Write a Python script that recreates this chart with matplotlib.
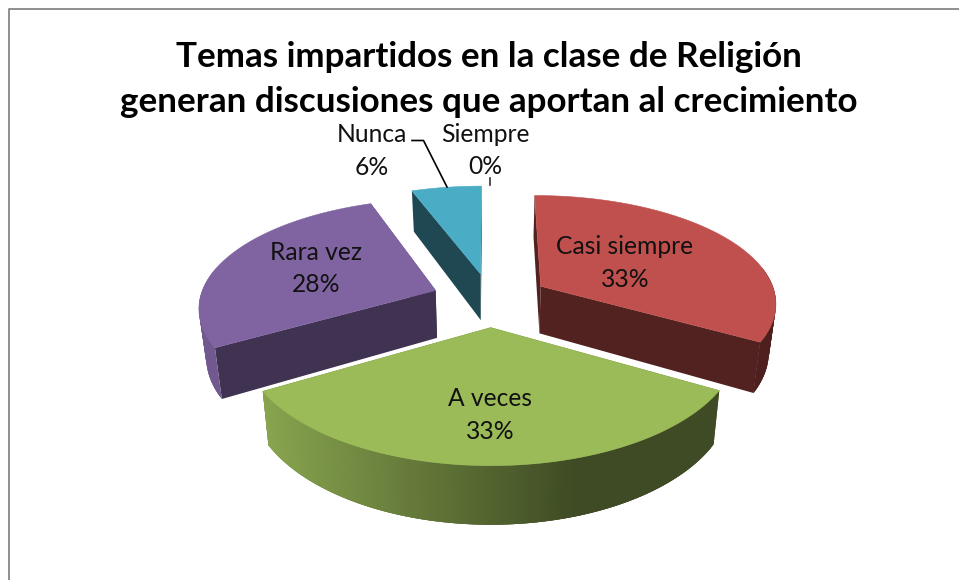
import numpy as np
import matplotlib
matplotlib.use("Agg")
import matplotlib.pyplot as plt
from matplotlib.patches import Polygon

# --- data ---
categories = ["Siempre", "Casi siempre", "A veces", "Rara vez", "Nunca"]
percent = [0, 33, 33, 28, 6]
colors = ["#F79646", "#C0504D", "#9BBB59", "#8064A2", "#4BACC6"]
title_lines = ["Temas impartidos en la clase de Religión",
               "generan discusiones que aportan al crecimiento"]
draw_order = [4, 3, 1, 2]

# --- projection of the exploded 3D pie ---
CX, CY, RX, RY, K, KX, EXPLODE, DEPTH, SHRINK = 490.5, 299.5, 236, 108, 0.15, 0.14, 0.25, 48, 0.975
values = np.array([0.0, 33.3, 33.3, 27.8, 5.6])
angles = np.concatenate([[0], np.cumsum(values) / values.sum() * 2 * np.pi])


def project(X, Y, low=False):
    Y = np.asarray(Y)
    s = 1 / (1 + K * Y)
    sx = 1 / (1 + KX * Y)
    x = CX + RX * np.asarray(X) * sx
    y = CY - RY * Y * s
    if low:
        x = CX + (x - CX) * SHRINK
        y = y + DEPTH * s
    return x, y


def shade(hex_color, f):
    rgb = np.array(matplotlib.colors.to_rgb(hex_color))
    return tuple(np.clip(rgb * f, 0, 1))


def wall_factor(x):
    return float(np.interp(x, [262, 577], [0.88, 0.40]))


fig = plt.figure(figsize=(9.59, 5.80), dpi=100, facecolor="white")
ax = fig.add_axes([0, 0, 1, 1])
ax.set_xlim(0, 959)
ax.set_ylim(580, 0)
ax.axis("off")

# chart frame
ax.plot([8.5, 8.5, 959], [580, 8.5, 8.5], color="#868686", lw=1.3, solid_capstyle="butt")

for i in draw_order:
    a0, a1 = angles[i], angles[i + 1]
    mid = (a0 + a1) / 2
    ox, oy = EXPLODE * np.sin(mid), EXPLODE * np.cos(mid)
    t = np.linspace(a0, a1, 160)
    X = ox + np.sin(t)
    Y = oy + np.cos(t)
    tx, ty = project(X, Y)
    bx, by = project(X, Y, low=True)
    px, py = project(ox, oy)
    qx, qy = project(ox, oy, low=True)
    col = colors[i]

    # radial cut faces
    cut = 0.42 if col != "#8064A2" else 0.5
    for k in (0, -1):
        ax.add_patch(Polygon([(px, py), (tx[k], ty[k]), (bx[k], by[k]), (qx, qy)],
                             closed=True, fc=shade(col, cut), ec="none"))
    # outer wall, shaded strip by strip (overlapping so that no seams show)
    n = len(t)
    for j in range(n - 1):
        if np.cos(t[j]) > 0.02 and abs(np.sin(t[j])) < 0.98:
            continue
        e = min(j + 3, n - 1)
        c = shade(col, wall_factor((tx[j] + tx[j + 1]) / 2))
        ax.add_patch(Polygon([(tx[j], ty[j]), (tx[e], ty[e]), (bx[e], by[e]), (bx[j], by[j])],
                             closed=True, fc=c, ec="none"))
    # top face
    ax.add_patch(Polygon(np.r_[[[px, py]], np.c_[tx, ty]], closed=True, fc=col, ec=col, lw=0.4))

# leader lines
ax.plot([412, 423.5, 447], [140.5, 140.5, 187], color="black", lw=1.2)
ax.plot([490, 490], [178, 185], color="#333333", lw=1.2)

# texts
font = "Lato"
ax.text(489, 57, title_lines[0], ha="center", va="center", fontsize=25.2,
        fontweight="bold", family=font, color="black")
ax.text(489, 102, title_lines[1], ha="center", va="center", fontsize=25.2,
        fontweight="bold", family=font, color="black")

label_pos = {0: (485, 134), 1: (625, 247), 2: (490, 399), 3: (316, 252), 4: (372, 135)}
for i, (x, y) in label_pos.items():
    ax.text(x, y, categories[i], ha="center", va="center", fontsize=17.7, family=font, color="#111111")
    ax.text(x, y + 32.5, f"{percent[i]}%", ha="center", va="center", fontsize=17.7, family=font, color="#111111")

fig.savefig("out.png", dpi=100, facecolor="white")
